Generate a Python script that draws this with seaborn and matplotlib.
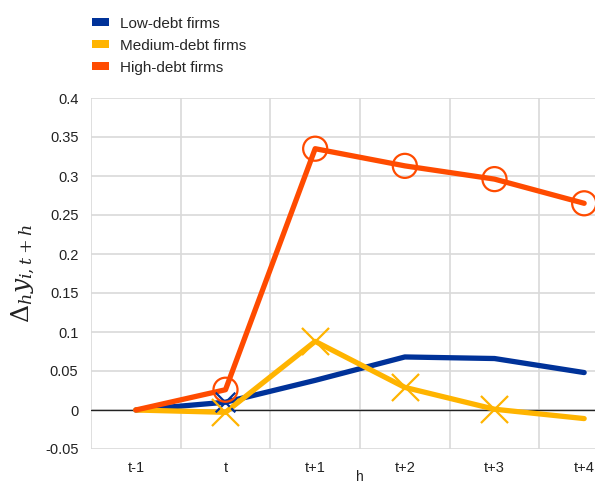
import matplotlib
matplotlib.use("Agg")
import matplotlib.pyplot as plt
import seaborn as sns
import pandas as pd
import numpy as np
from matplotlib.patches import Patch

horizons = ["t-1", "t", "t+1", "t+2", "t+3", "t+4"]
low_debt = [0.0, 0.010, 0.038, 0.068, 0.066, 0.048]
medium_debt = [0.0, -0.003, 0.088, 0.029, 0.001, -0.011]
high_debt = [0.0, 0.026, 0.335, 0.313, 0.296, 0.265]

# significance markers (horizon indices)
low_marked = [1]
medium_marked = [1, 2, 3, 4]
high_marked = [1, 2, 3, 4, 5]

series_names = ["Low-debt firms", "Medium-debt firms", "High-debt firms"]
colors = ["#003299", "#FFB400", "#FF4B00"]

sns.set_style("white")
plt.rcParams["font.family"] = ["Liberation Sans", "DejaVu Sans"]
plt.rcParams["mathtext.fontset"] = "dejavuserif"

rows = []
for name, vals in zip(series_names, [low_debt, medium_debt, high_debt]):
    for i, v in enumerate(vals):
        rows.append({"pos": i, "value": v, "series": name})
df = pd.DataFrame(rows)

fig = plt.figure(figsize=(5.95, 4.84), dpi=100)
ax = fig.add_axes([91 / 595, 35 / 484, 538 / 595, 351 / 484])

# grid
ax.set_xlim(-0.5, 5.5)
ax.set_ylim(-0.05, 0.4)
ax.set_yticks(np.arange(-0.05, 0.401, 0.05))
ax.set_yticklabels(["-0.05", "0", "0.05", "0.1", "0.15", "0.2", "0.25", "0.3", "0.35", "0.4"])
ax.set_xticks(range(len(horizons)))
ax.set_xticklabels(horizons)
ax.set_xticks(np.arange(-0.5, 5.6, 1.0), minor=True)
ax.grid(axis="y", which="major", color="#d9d9d9", linewidth=1.2)
ax.grid(axis="x", which="minor", color="#d9d9d9", linewidth=1.2)
ax.grid(axis="x", which="major", visible=False)
ax.axhline(0, color="#222222", linewidth=1.0, zorder=2)
for s in ax.spines.values():
    s.set_visible(False)
ax.tick_params(axis="both", which="both", length=0, labelsize=10.5, colors="#222222")
ax.tick_params(axis="x", pad=9)
ax.tick_params(axis="y", pad=9)

sns.lineplot(data=df, x="pos", y="value", hue="series", hue_order=series_names,
             palette=colors, linewidth=3.8, legend=False, ax=ax, zorder=3)

for name, col, vals, marked, mk in [
    (series_names[0], colors[0], low_debt, low_marked, "x"),
    (series_names[1], colors[1], medium_debt, medium_marked, "x"),
    (series_names[2], colors[2], high_debt, high_marked, "o"),
]:
    sub = df[(df["series"] == name) & (df["pos"].isin(marked))]
    if mk == "o":
        sns.scatterplot(data=sub, x="pos", y="value", marker="o", s=300,
                        facecolors="none", edgecolor=col, linewidth=1.6,
                        ax=ax, zorder=4, legend=False)
    else:
        sns.scatterplot(data=sub, x="pos", y="value", marker="x", s=380 if name != series_names[0] else 200,
                        color=col, linewidth=1.6, ax=ax, zorder=4, legend=False)

ax.set_xlabel("h", fontsize=10, color="#222222", labelpad=-4)
ax.set_ylabel(r"$\Delta_h y_{i,t+h}$", fontsize=18, color="#222222", labelpad=6)

handles = [Patch(facecolor=c, edgecolor="none") for c in colors]
fig.legend(handles, series_names, loc="upper left", bbox_to_anchor=(78 / 595, 1 - 3 / 484),
           frameon=False, fontsize=11, handlelength=1.1, handleheight=0.42,
           labelspacing=0.52, handletextpad=0.75)

fig.savefig("out.png", dpi=100)
